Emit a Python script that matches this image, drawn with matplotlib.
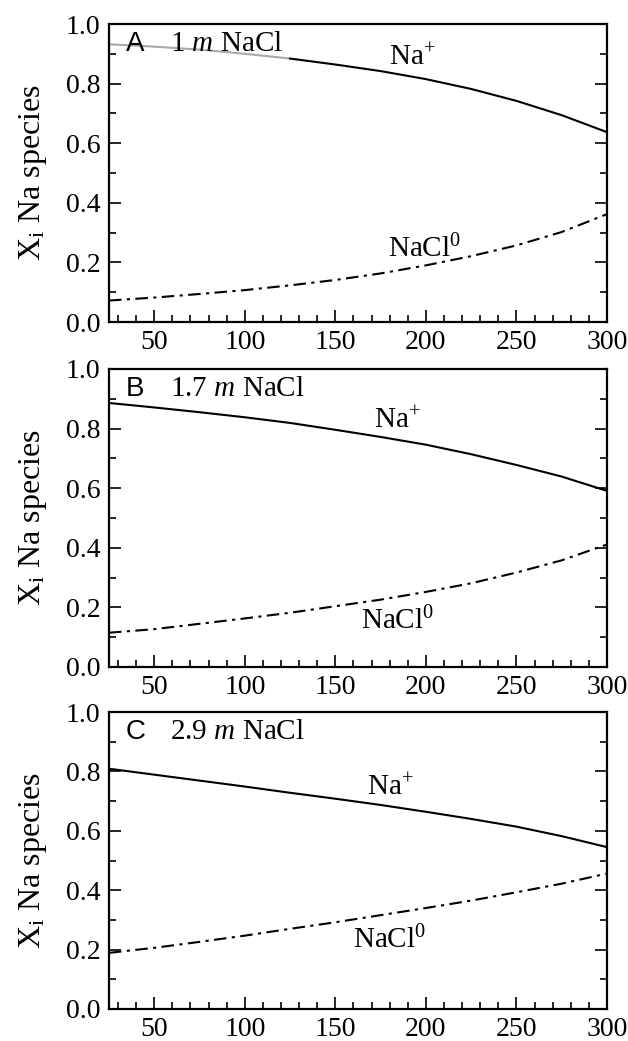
import matplotlib
matplotlib.use("Agg")
import matplotlib.pyplot as plt
from matplotlib.ticker import MultipleLocator

plt.rcParams['font.family'] = ['Liberation Serif', 'DejaVu Serif']
plt.rcParams['mathtext.fontset'] = 'custom'
plt.rcParams['mathtext.rm'] = 'Liberation Serif'
plt.rcParams['mathtext.it'] = 'Liberation Serif:italic'

temps = [25, 50, 75, 100, 125, 150, 175, 200, 225, 250, 275, 300]

na_A = [0.932, 0.924, 0.914, 0.900, 0.884, 0.864, 0.842, 0.815, 0.782, 0.742, 0.694, 0.637]
nacl_A = [0.072, 0.082, 0.094, 0.107, 0.123, 0.141, 0.163, 0.190, 0.221, 0.257, 0.302, 0.362]

na_B = [0.886, 0.871, 0.855, 0.838, 0.819, 0.796, 0.772, 0.746, 0.714, 0.678, 0.639, 0.591]
nacl_B = [0.115, 0.127, 0.145, 0.163, 0.182, 0.204, 0.226, 0.252, 0.281, 0.317, 0.358, 0.411]

na_C = [0.809, 0.789, 0.769, 0.749, 0.728, 0.708, 0.687, 0.664, 0.640, 0.614, 0.582, 0.545]
nacl_C = [0.189, 0.206, 0.226, 0.247, 0.270, 0.292, 0.316, 0.340, 0.365, 0.393, 0.422, 0.456]

panel_letters = ['A', 'B', 'C']
concentrations = ['1', '1.7', '2.9']
xticks = [50, 100, 150, 200, 250, 300]
yticks = [0.0, 0.2, 0.4, 0.6, 0.8, 1.0]

# label positions (data coords): (x, y) for Na+ and NaCl0
na_label_pos = [(179.6, 0.862), (171.3, 0.802), (167.5, 0.72)]
nacl_label_pos = [(179.0, 0.218), (164.0, 0.128), (159.7, 0.205)]

fig = plt.figure(figsize=(6.28, 10.41), dpi=100)
left, width = 109 / 628, 498 / 628
rects = [
    (left, 1 - 322 / 1041, width, 298 / 1041),
    (left, 1 - 667 / 1041, width, 298 / 1041),
    (left, 1 - 1009 / 1041, width, 297 / 1041),
]
na_series = [na_A, na_B, na_C]
nacl_series = [nacl_A, nacl_B, nacl_C]
dash = (0, (6, 2.6, 1.5, 2.6))

for i, r in enumerate(rects):
    ax = fig.add_axes(r)
    na = na_series[i]
    nacl = nacl_series[i]
    if i == 0:
        split = temps.index(125)
        ax.plot(temps[:split + 1], na[:split + 1], color='#a8a8a8', lw=1.5)
        ax.plot(temps[split:], na[split:], color='black', lw=1.5)
    else:
        ax.plot(temps, na, color='black', lw=1.5)
    ax.plot(temps, nacl, color='black', lw=1.5, linestyle=dash)

    ax.set_xlim(25, 300)
    ax.set_ylim(0, 1.0)
    ax.set_xticks(xticks)
    ax.set_yticks(yticks)
    ax.set_yticklabels([f"{v:.1f}" for v in yticks])
    ax.xaxis.set_minor_locator(MultipleLocator(10))
    ax.yaxis.set_minor_locator(MultipleLocator(0.1))
    ax.tick_params(which='both', direction='in', left=True, right=True,
                   bottom=True, top=False, labelsize=20, width=1.2, pad=6)
    ax.tick_params(which='major', length=8.5)
    ax.tick_params(which='minor', length=5)
    for sp in ax.spines.values():
        sp.set_linewidth(1.6)

    ax.set_ylabel(r"X$_\mathrm{i}$ Na species", fontsize=23, labelpad=12)

    ax.text(0.034, 0.908, panel_letters[i], transform=ax.transAxes,
            fontsize=20, family=['Liberation Sans', 'DejaVu Sans'],
            ha='left', va='baseline')
    ax.text(0.1225, 0.908, concentrations[i] + r" $\mathit{m}$ NaCl",
            transform=ax.transAxes, fontsize=21, ha='left', va='baseline')

    nx, ny = na_label_pos[i]
    ax.text(nx, ny, r"Na$^{+}$", fontsize=21, ha='left', va='baseline')
    cx, cy = nacl_label_pos[i]
    ax.text(cx, cy, r"NaCl$^{0}$", fontsize=21, ha='left', va='baseline')

fig.savefig("out.png", dpi=100)
